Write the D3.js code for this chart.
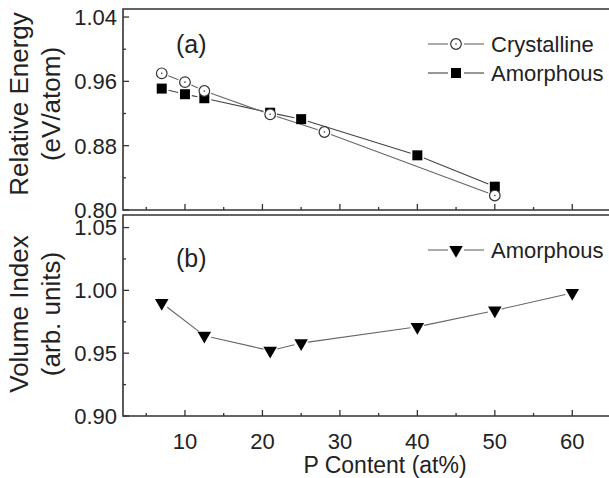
<!DOCTYPE html>
<html>
<head>
<meta charset="utf-8">
<script src="https://cdn.jsdelivr.net/npm/d3@7"></script>
<style>
  body { margin: 0; background: #fff; }
  svg { display: block; font-family: "Liberation Sans", Arial, sans-serif; }
</style>
</head>
<body>
<div id="chart"></div>
<script>
"use strict";

// P content (at%) for each series
const crystX = [7, 10, 12.5, 21, 28, 50];
const crystE = [0.970, 0.959, 0.948, 0.919, 0.897, 0.818];

const amorX = [7, 10, 12.5, 21, 25, 40, 50];
const amorE = [0.951, 0.944, 0.939, 0.921, 0.913, 0.868, 0.829];

const volX = [7, 12.5, 21, 25, 40, 50, 60];
const volV = [0.990, 0.964, 0.952, 0.958, 0.971, 0.984, 0.998];

const xTicks = [10, 20, 30, 40, 50, 60];
const energyTicks = [0.80, 0.88, 0.96, 1.04];
const volumeTicks = [0.90, 0.95, 1.00, 1.05];

(function () {
   const width = 609;
   const height = 478;
   const left = 123;
   const axisColour = "#333";

   const svg = d3.select("#chart").append("svg")
      .attr("width", width)
      .attr("height", height);

   const x = d3.scaleLinear().domain([2, 65]).range([left, 611]);
   const yTop = d3.scaleLinear().domain([0.80, 1.05]).range([210, 9]);
   const yBot = d3.scaleLinear().domain([0.90, 1.06]).range([416, 215]);

   const minorX = d3.range(5, 65, 10);

   function drawPanel(y, ticks, minor, fmt, showXLabels) {
      const [yb, yt] = y.range();
      const g = svg.append("g");

      // frame: bottom, left, top (right edge runs off the page)
      g.append("path")
         .attr("d", `M${x(65)},${yt}H${left}V${yb}H${x(65)}`)
         .attr("fill", "none")
         .attr("stroke", axisColour)
         .attr("stroke-width", 1.6);

      // x ticks, pointing inward
      g.selectAll(".xmaj").data(xTicks).enter().append("line")
         .attr("x1", d => x(d)).attr("x2", d => x(d))
         .attr("y1", yb).attr("y2", yb - 6)
         .attr("stroke", axisColour).attr("stroke-width", 1.3);
      g.selectAll(".xmin").data(minorX).enter().append("line")
         .attr("x1", d => x(d)).attr("x2", d => x(d))
         .attr("y1", yb).attr("y2", yb - 3)
         .attr("stroke", axisColour).attr("stroke-width", 1.3);

      // y ticks
      g.selectAll(".ymaj").data(ticks).enter().append("line")
         .attr("x1", left).attr("x2", left + 6)
         .attr("y1", d => y(d)).attr("y2", d => y(d))
         .attr("stroke", axisColour).attr("stroke-width", 1.3);
      g.selectAll(".ymin").data(minor).enter().append("line")
         .attr("x1", left).attr("x2", left + 3)
         .attr("y1", d => y(d)).attr("y2", d => y(d))
         .attr("stroke", axisColour).attr("stroke-width", 1.3);

      g.selectAll(".ylab").data(ticks).enter().append("text")
         .attr("x", left - 6)
         .attr("y", d => y(d))
         .attr("dy", "0.36em")
         .attr("text-anchor", "end")
         .attr("font-size", 22)
         .attr("fill", "#222")
         .text(fmt);

      if (showXLabels) {
         g.selectAll(".xlab").data(xTicks).enter().append("text")
            .attr("x", d => x(d))
            .attr("y", yb + 25)
            .attr("dy", "0.36em")
            .attr("text-anchor", "middle")
            .attr("font-size", 22)
            .attr("fill", "#222")
            .text(d => d);
      }
      return g;
   }

   const fmt2 = d3.format(".2f");
   drawPanel(yTop, energyTicks, [0.84, 0.92, 1.00], fmt2, false);
   drawPanel(yBot, volumeTicks, [0.925, 0.975, 1.025], fmt2, true);

   // series lines, broken slightly around each marker
   const gap = 7;
   function line(xs, ys, y, colour) {
      const pts = xs.map((v, i) => [x(v), y(ys[i])]);
      const g = svg.append("g");
      for (let i = 0; i < pts.length - 1; i++) {
         const [x0, y0] = pts[i], [x1, y1] = pts[i + 1];
         const len = Math.hypot(x1 - x0, y1 - y0);
         if (len <= 2 * gap) continue;
         const ux = (x1 - x0) / len, uy = (y1 - y0) / len;
         g.append("line")
            .attr("x1", x0 + ux * gap).attr("y1", y0 + uy * gap)
            .attr("x2", x1 - ux * gap).attr("y2", y1 - uy * gap)
            .attr("stroke", colour)
            .attr("stroke-width", 1.1);
      }
      return pts;
   }

   const amorPts = line(amorX, amorE, yTop, "#444");
   const crystPts = line(crystX, crystE, yTop, "#666");
   const volPts = line(volX, volV, yBot, "#666");

   const square = d3.symbol().type(d3.symbolSquare).size(100);
   const tri = d3.symbol().type(d3.symbolTriangle).size(80);

   function squareAt(g, px, py) {
      g.append("path").attr("d", square())
         .attr("transform", `translate(${px},${py})`)
         .attr("fill", "#000");
   }
   function circleAt(g, px, py) {
      g.append("circle").attr("cx", px).attr("cy", py).attr("r", 5.3)
         .attr("fill", "#fff").attr("stroke", "#333").attr("stroke-width", 1.2);
      g.append("circle").attr("cx", px).attr("cy", py).attr("r", 0.8)
         .attr("fill", "#333");
   }
   function triAt(g, px, py) {
      g.append("path").attr("d", tri())
         .attr("transform", `translate(${px},${py}) rotate(180)`)
         .attr("fill", "#000");
   }

   const marks = svg.append("g");
   amorPts.forEach(p => squareAt(marks, p[0], p[1]));
   crystPts.forEach(p => circleAt(marks, p[0], p[1]));
   volPts.forEach(p => triAt(marks, p[0], p[1]));

   // legends
   const leg = svg.append("g");
   function legendRow(yy, label, markFn, colour) {
      leg.append("line").attr("x1", 428).attr("x2", 448)
         .attr("y1", yy).attr("y2", yy)
         .attr("stroke", colour).attr("stroke-width", 1.1);
      leg.append("line").attr("x1", 464).attr("x2", 484)
         .attr("y1", yy).attr("y2", yy)
         .attr("stroke", colour).attr("stroke-width", 1.1);
      markFn(leg, 456, yy);
      leg.append("text").attr("x", 491).attr("y", yy).attr("dy", "0.36em")
         .attr("font-size", 22).attr("fill", "#222").text(label);
   }
   legendRow(44, "Crystalline", circleAt, "#666");
   legendRow(73, "Amorphous", squareAt, "#444");
   legendRow(250, "Amorphous", triAt, "#666");

   // panel labels
   svg.append("text").attr("x", 176).attr("y", 53)
      .attr("font-size", 25).attr("fill", "#222").text("(a)");
   svg.append("text").attr("x", 176).attr("y", 267)
      .attr("font-size", 25).attr("fill", "#222").text("(b)");

   // axis titles
   function yTitle(cy, l1, l2) {
      const t = svg.append("text")
         .attr("transform", `translate(0,${cy}) rotate(-90)`)
         .attr("text-anchor", "middle")
         .attr("font-size", 26)
         .attr("fill", "#222");
      t.append("tspan").attr("x", 0).attr("y", 28).text(l1);
      t.append("tspan").attr("x", 0).attr("y", 60).text(l2);
   }
   yTitle(104, "Relative Energy", "(eV/atom)");
   yTitle(314, "Volume Index", "(arb. units)");

   svg.append("text")
      .attr("x", 385).attr("y", 473)
      .attr("text-anchor", "middle")
      .attr("font-size", 23)
      .attr("fill", "#222")
      .text("P Content (at%)");
})();
</script>
</body>
</html>
